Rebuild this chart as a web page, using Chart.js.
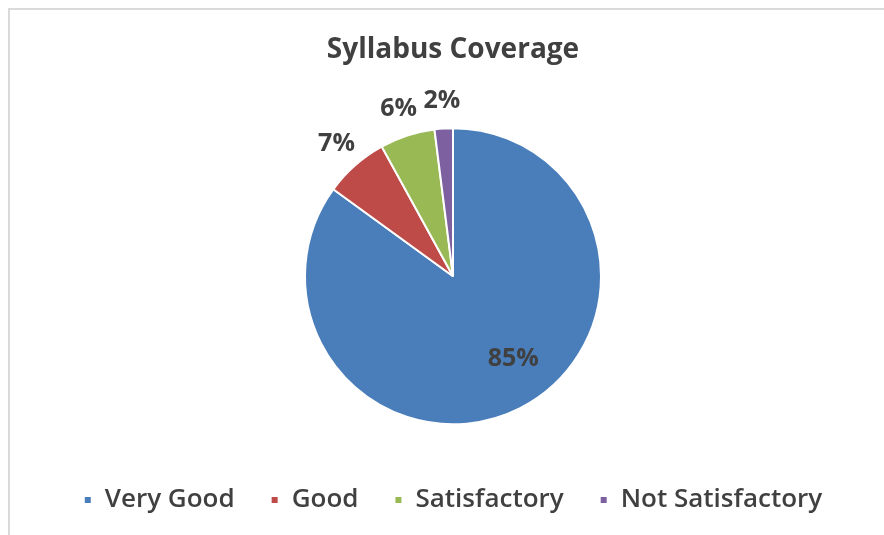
<!DOCTYPE html>
<html>
<head>
<meta charset="utf-8">
<script src="https://cdn.jsdelivr.net/npm/chart.js@4.4.1/dist/chart.umd.min.js"></script>
<style>
  html, body { margin: 0; padding: 0; background: #fff; }
  #wrap { position: relative; width: 884px; height: 535px; }
  #frame {
    position: absolute; left: 8px; top: 8px; right: -4px; bottom: -4px;
    border-left: 2px solid #dadada; border-top: 2px solid #dadada;
    pointer-events: none;
  }
</style>
</head>
<body>
<div id="wrap">
  <canvas id="pieChart" width="884" height="535"></canvas>
  <div id="frame"></div>
</div>
<script>
const categories = ["Very Good", "Good", "Satisfactory", "Not Satisfactory"];
const shares = [85, 7, 6, 2];
const sliceColors = ["#4a7ebb", "#be4b48", "#98b954", "#7d60a0"];

const FONT = "'Open Sans', sans-serif";
const textColor = "#404040";

// percentage labels: big slice inside (Excel "best fit" sits a bit off the
// bisector), small slices just outside the rim
const pctLabels = {
  id: "pctLabels",
  afterDatasetsDraw(chart) {
    const ctx = chart.ctx;
    const meta = chart.getDatasetMeta(0);
    const total = shares.reduce((a, b) => a + b, 0);
    ctx.save();
    ctx.font = "bold 25px " + FONT;
    ctx.fillStyle = textColor;
    ctx.textAlign = "center";
    ctx.textBaseline = "middle";
    meta.data.forEach((arc, i) => {
      const p = arc.getProps(["x", "y", "startAngle", "endAngle", "outerRadius"], true);
      const pct = shares[i] / total;
      let mid = (p.startAngle + p.endAngle) / 2;
      let r;
      if (pct > 0.5) {
        mid -= 0.16;
        r = p.outerRadius * 0.69;
      } else {
        r = p.outerRadius * 1.19;
      }
      const x = p.x + Math.cos(mid) * r;
      const y = p.y + Math.sin(mid) * r;
      ctx.fillText(Math.round(pct * 100) + "%", x, y);
    });
    ctx.restore();
  }
};

new Chart(document.getElementById("pieChart"), {
  type: "pie",
  data: {
    labels: categories,
    datasets: [{
      data: shares,
      backgroundColor: sliceColors,
      borderColor: "#ffffff",
      borderWidth: 2,
      radius: 148
    }]
  },
  options: {
    responsive: false,
    animation: false,
    layout: { padding: { top: 33, bottom: 12, left: 22, right: 0 } },
    plugins: {
      title: {
        display: true,
        text: "Syllabus Coverage",
        color: textColor,
        font: { family: FONT, size: 28, weight: "bold" },
        padding: { top: 0, bottom: 35 }
      },
      legend: {
        position: "bottom",
        labels: {
          color: textColor,
          font: { family: FONT, size: 26, weight: 600 },
          boxWidth: 8,
          boxHeight: 8,
          padding: 36
        }
      },
      tooltip: { enabled: false }
    }
  },
  plugins: [pctLabels]
});
</script>
</body>
</html>
